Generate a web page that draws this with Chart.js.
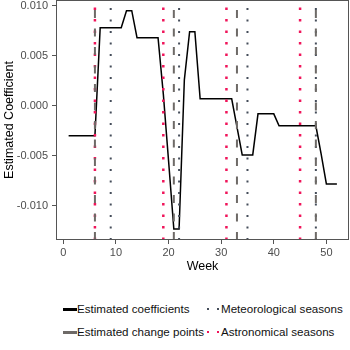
<!DOCTYPE html>
<html>
<head>
<meta charset="utf-8">
<script src="https://cdn.jsdelivr.net/npm/chart.js@4/dist/chart.umd.min.js"></script>
<style>
  html, body { margin: 0; padding: 0; background: #fff; }
  #wrap { position: relative; width: 350px; height: 350px; font-family: "Liberation Sans", Arial, sans-serif; }
  #c { position: absolute; left: 0; top: 0; }
  .lg { position: absolute; font-size: 11.6px; color: #111; line-height: 13px; white-space: nowrap; }
  .key { position: absolute; }
</style>
</head>
<body>
<div id="wrap">
  <canvas id="c" width="350" height="280"></canvas>
</div>
<script>
// ---- data ----
const weeks = [1,2,3,4,5,6,7,8,9,10,11,12,13,14,15,16,17,18,19,20,21,22,23,24,25,26,27,28,29,30,31,32,33,34,35,36,37,38,39,40,41,42,43,44,45,46,47,48,49,50,51,52];
const coefficients = [
  -0.0030,-0.0030,-0.0030,-0.0030,-0.0030,-0.0030,
  0.0078,0.0078,0.0078,0.0078,0.0078,
  0.0095,0.0095,
  0.0068,0.0068,0.0068,0.0068,0.0068,
  0.0012,-0.0055,
  -0.0123,-0.0123,
  0.0026,
  0.0074,0.0074,
  0.0007,0.0007,0.0007,0.0007,0.0007,0.0007,0.0007,
  -0.0021,
  -0.0049,-0.0049,-0.0049,
  -0.0008,-0.0008,-0.0008,-0.0008,
  -0.0020,-0.0020,-0.0020,-0.0020,-0.0020,-0.0020,-0.0020,-0.0020,
  -0.0048,
  -0.0078,-0.0078,-0.0078
];
const changePointWeeks = [6, 21, 33, 48];
const meteorologicalWeeks = [9, 22, 35, 48];
const astronomicalWeeks = [6, 19, 31, 45];
const xTicks = [0, 10, 20, 30, 40, 50];
const yTicks = [-0.010, -0.005, 0.000, 0.005, 0.010];
const xRange = [-1.4, 54.3];
const yRange = [-0.0134, 0.01057];
const legendLabels = ["Estimated coefficients", "Meteorological seasons", "Estimated change points", "Astronomical seasons"];

// ---- styles ----
const colLine = "#000000";
const colChange = "#6e6a67";
const colMet = "#454d5a";
const colAst = "#f0145a";

function vlines(arr, color, dash, width) {
  return arr.map(w => ({
    data: [{x: w, y: yRange[0]}, {x: w, y: yRange[1]}],
    borderColor: color, borderWidth: width, borderDash: dash,
    borderCapStyle: 'butt', pointRadius: 0, fill: false, tension: 0, order: 0
  }));
}

const datasets = [
  {
    data: weeks.map((w, i) => ({x: w, y: coefficients[i]})),
    borderColor: colLine, borderWidth: 1.5, pointRadius: 0, fill: false, tension: 0, order: 5,
    borderJoinStyle: 'miter'
  },
  ...vlines(changePointWeeks, colChange, [8, 10.5], 2),
  ...vlines(meteorologicalWeeks, colMet, [2, 9.5], 2),
  ...vlines(astronomicalWeeks, colAst, [2.5, 9], 2.5)
];

const borderPlugin = {
  id: 'panelBorder',
  afterDraw(chart) {
    const {ctx, chartArea: a} = chart;
    ctx.save();
    ctx.strokeStyle = '#555';
    ctx.lineWidth = 1;
    ctx.strokeRect(a.left + 0.5, a.top + 0.5, a.right - a.left - 1, a.bottom - a.top - 1);
    ctx.restore();
  }
};

new Chart(document.getElementById('c'), {
  type: 'line',
  data: { datasets },
  plugins: [borderPlugin],
  options: {
    responsive: false,
    animation: false,
    layout: { padding: { left: 0, right: 1, top: 0, bottom: 0 } },
    plugins: { legend: { display: false }, tooltip: { enabled: false } },
    scales: {
      x: {
        type: 'linear', min: xRange[0], max: xRange[1],
        afterBuildTicks: s => { s.ticks = xTicks.map(v => ({value: v})); },
        afterFit: s => { s.height = 40; s.paddingLeft = 0; s.paddingRight = 0; },
        grid: { drawOnChartArea: false, drawTicks: true, tickLength: 4, color: '#555', tickWidth: 1 },
        border: { display: false },
        ticks: { color: '#4d4d4d', font: { family: 'Liberation Sans', size: 11 }, padding: 2, maxRotation: 0,
                 callback: v => String(v) },
        title: { display: true, text: 'Week', color: '#000', font: { family: 'Liberation Sans', size: 12.5 },
                 padding: { top: 0, bottom: 6 } }
      },
      y: {
        type: 'linear', min: yRange[0], max: yRange[1],
        afterBuildTicks: s => { s.ticks = yTicks.map(v => ({value: v})); },
        afterFit: s => { s.width = 56; s.paddingTop = 0; s.paddingBottom = 0; },
        grid: { drawOnChartArea: false, drawTicks: true, tickLength: 4, color: '#555', tickWidth: 1 },
        border: { display: false },
        ticks: { color: '#4d4d4d', font: { family: 'Liberation Sans', size: 11 }, padding: 4,
                 callback: v => v.toFixed(3) },
        title: { display: true, text: 'Estimated Coefficient', color: '#000', font: { family: 'Liberation Sans', size: 12.5 },
                 padding: { top: 2, bottom: 0 } }
      }
    }
  }
});

// ---- legend (HTML) ----
const wrap = document.getElementById('wrap');
function addKey(css) { const d = document.createElement('div'); d.className = 'key'; Object.assign(d.style, css); wrap.appendChild(d); }
function addText(t, x, y) { const d = document.createElement('div'); d.className = 'lg'; d.textContent = t; d.style.left = x + 'px'; d.style.top = y + 'px'; wrap.appendChild(d); }
const row1 = 309, row2 = 332;
addKey({left: '63px', top: (row1 - 1.5) + 'px', width: '14px', height: '3.5px', background: colLine});
addText(legendLabels[0], 77, row1 - 7);
addKey({left: '207px', top: (row1 - 1) + 'px', width: '2px', height: '2px', background: colMet});
addKey({left: '217px', top: (row1 - 1) + 'px', width: '2px', height: '2px', background: colMet});
addText(legendLabels[1], 221, row1 - 7);
addKey({left: '63px', top: (row2 - 1.5) + 'px', width: '14px', height: '3.5px', background: colChange});
addText(legendLabels[2], 77, row2 - 7);
addKey({left: '206.5px', top: (row2 - 1.25) + 'px', width: '2.5px', height: '2.5px', background: colAst});
addKey({left: '216.5px', top: (row2 - 1.25) + 'px', width: '2.5px', height: '2.5px', background: colAst});
addText(legendLabels[3], 221, row2 - 7);
</script>
</body>
</html>
